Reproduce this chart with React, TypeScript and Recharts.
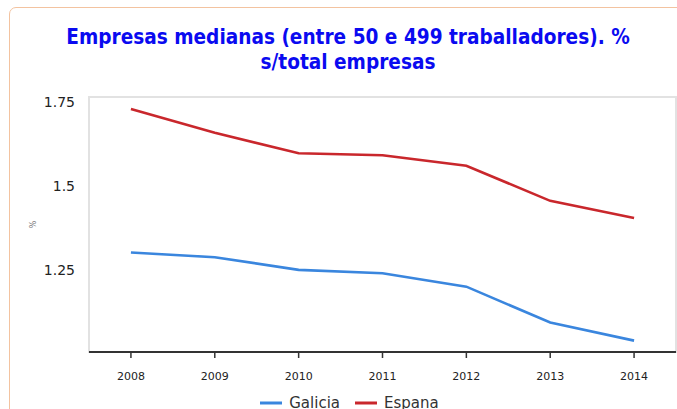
import React from 'react';
import { LineChart, Line, XAxis, YAxis, CartesianGrid, Legend, ReferenceArea } from 'recharts';

const years = [2008, 2009, 2010, 2011, 2012, 2013, 2014];
const galicia = [1.302, 1.288, 1.25, 1.24, 1.2, 1.093, 1.039];
const espana = [1.73, 1.659, 1.598, 1.592, 1.561, 1.456, 1.405];
const yTicks = [1.25, 1.5, 1.75];
const titleLines = ['Empresas medianas (entre 50 e 499 traballadores). %', 's/total empresas'];
const seriesNames = ['Galicia', 'Espana'];
const seriesColors = ['#3a86de', '#c9272c'];
const yLabel = '%';

const data = years.map((y, i) => ({ year: y, Galicia: galicia[i], Espana: espana[i] }));

const X_DOMAIN: [number, number] = [2007.5, 2014.5];
const Y_DOMAIN: [number, number] = [1.005, 1.766];

function LegendContent() {
  return (
    <div style={{ display: 'flex', justifyContent: 'center', alignItems: 'center', fontSize: 15, color: '#333', lineHeight: '18px' }}>
      {seriesNames.map((name, i) => (
        <div key={name} style={{ display: 'flex', alignItems: 'center', marginRight: i === 0 ? 15 : 0 }}>
          <svg width={22} height={18} style={{ marginRight: 7 }}>
            <line x1={0} x2={22} y1={9} y2={9} stroke={seriesColors[i]} strokeWidth={3} />
          </svg>
          <span>{name}</span>
        </div>
      ))}
    </div>
  );
}

export default function App() {
  return (
    <div style={{ position: 'absolute', left: 0, top: 0, width: 677, height: 409, overflow: 'hidden', background: '#fff' }}>
      <div
        style={{
          position: 'absolute',
          left: 9,
          top: 7,
          width: 720,
          height: 460,
          border: '1.5px solid #f3c3a0',
          borderRadius: 7,
          boxSizing: 'border-box',
        }}
      />
      <div
        style={{
          position: 'absolute',
          left: 0,
          top: 25,
          width: 696,
          textAlign: 'center',
          fontFamily: '"DejaVu Sans Condensed", "DejaVu Sans", sans-serif',
          fontWeight: 'bold',
          fontSize: 20.6,
          lineHeight: '25px',
          color: '#0a0af0',
        }}
      >
        {titleLines.map((t) => (
          <div key={t}>{t}</div>
        ))}
      </div>
      <div style={{ position: 'absolute', left: 0, top: 0 }}>
        <LineChart
          width={677}
          height={409}
          data={data}
          margin={{ top: 97, right: 1, left: 0, bottom: 27 }}
          style={{ fontFamily: '"DejaVu Sans", sans-serif' }}
        >
          <ReferenceArea
            x1={X_DOMAIN[0]}
            x2={X_DOMAIN[1]}
            y1={Y_DOMAIN[0]}
            y2={Y_DOMAIN[1]}
            fill="#fff"
            fillOpacity={1}
            stroke="#e2e2e2"
            strokeWidth={2}
            ifOverflow="visible"
          />
          <CartesianGrid vertical={false} stroke="#c4c4c4" strokeDasharray="4 2" />
          <XAxis
            dataKey="year"
            type="number"
            domain={X_DOMAIN}
            ticks={years}
            allowDataOverflow
            height={30}
            axisLine={{ stroke: '#333', strokeWidth: 2 }}
            tickLine={{ stroke: '#333', strokeWidth: 1.5 }}
            tickSize={6}
            tickMargin={14}
            tick={{ fontSize: 11, fill: '#222' }}
          />
          <YAxis
            type="number"
            domain={Y_DOMAIN}
            ticks={yTicks}
            allowDataOverflow
            width={89}
            axisLine={false}
            tickLine={false}
            tickSize={0}
            tickMargin={14}
            tick={{ fontSize: 14, fill: '#222' }}
            tickFormatter={(v: number) => String(v)}
            label={{
              content: (props: any) => {
                const vb = props.viewBox || {};
                const cx = (vb.x || 0) + 33;
                const cy = (vb.y || 0) + (vb.height || 0) / 2;
                return (
                  <text x={cx} y={cy} transform={`rotate(-90 ${cx} ${cy})`} textAnchor="middle" dominantBaseline="central" fontSize={8} fill="#777">
                    {yLabel}
                  </text>
                );
              },
            }}
          />
          <Line
            type="linear"
            dataKey="Galicia"
            name={seriesNames[0]}
            stroke={seriesColors[0]}
            strokeWidth={2.6}
            dot={false}
            activeDot={false}
            isAnimationActive={false}
          />
          <Line
            type="linear"
            dataKey="Espana"
            name={seriesNames[1]}
            stroke={seriesColors[1]}
            strokeWidth={2.6}
            dot={false}
            activeDot={false}
            isAnimationActive={false}
          />
          <Legend
            layout="horizontal"
            verticalAlign="middle"
            align="center"
            content={() => <LegendContent />}
            wrapperStyle={{ top: 394, left: 11, width: 677 }}
          />
        </LineChart>
      </div>
    </div>
  );
}
